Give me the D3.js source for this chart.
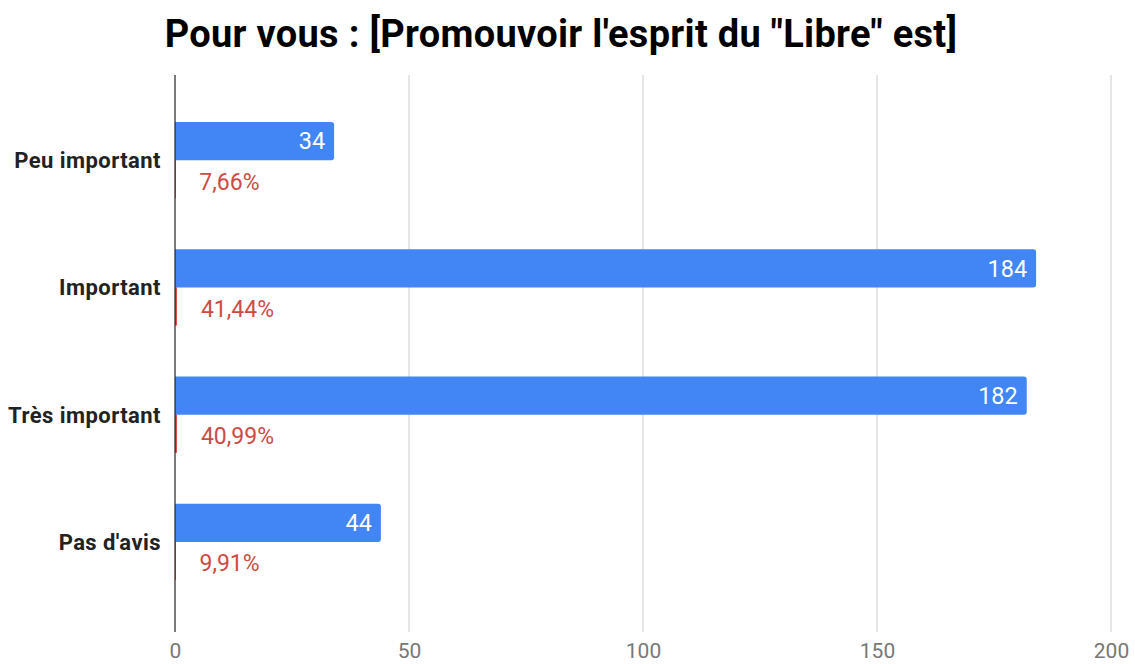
<!DOCTYPE html>
<html>
<head>
<meta charset="utf-8">
<script src="https://cdn.jsdelivr.net/npm/d3@7"></script>
<style>
  html, body { margin: 0; padding: 0; background: #fff; }
  svg { display: block; font-family: Roboto, "Noto Sans", sans-serif; }
</style>
</head>
<body>
<svg id="chart" width="1135" height="664"></svg>
<script>
// Survey answers and their counts / shares
const categories = ["Peu important", "Important", "Très important", "Pas d'avis"];
const counts = [34, 184, 182, 44];
const shares = [0.0766, 0.4144, 0.4099, 0.0991];
const shareLabels = ["7,66%", "41,44%", "40,99%", "9,91%"];
const xTicks = [0, 50, 100, 150, 200];
const title = "Pour vous : [Promouvoir l'esprit du \"Libre\" est]";

const svg = d3.select("#chart");
const plot = { left: 175, right: 1111, top: 75, bottom: 632 };

const x = d3.scaleLinear().domain([0, 200]).range([plot.left, plot.right]);
const y = d3.scaleBand().domain(categories).range([96.5, 605.5])
  .paddingInner(0.4).paddingOuter(0.2);
const sub = d3.scaleBand().domain(["count", "share"]).range([0, y.bandwidth()]);

// Title
svg.append("text")
  .attr("x", 561).attr("y", 47)
  .attr("text-anchor", "middle")
  .attr("font-size", 38).attr("font-weight", 700)
  .attr("fill", "#000")
  .attr("letter-spacing", "0.3")
  .text(title);

// Vertical grid lines
svg.append("g").selectAll("line").data(xTicks.filter(d => d !== 0)).join("line")
  .attr("x1", d => x(d)).attr("x2", d => x(d))
  .attr("y1", plot.top).attr("y2", plot.bottom)
  .attr("stroke", "#cccccc").attr("stroke-width", 1);

// Bottom axis labels
const xAxis = d3.axisBottom(x).tickValues(xTicks).tickSize(0).tickPadding(0);
const gx = svg.append("g").attr("transform", `translate(0,${plot.bottom})`).call(xAxis);
gx.select(".domain").remove();
gx.selectAll("text")
  .attr("dy", 0).attr("y", 26)
  .attr("font-size", 21).attr("fill", "#777")
  .attr("font-family", "Roboto, sans-serif");

// Count bars (rounded on the right end)
const rows = categories.map((c, i) => ({ c, n: counts[i], s: shares[i], sl: shareLabels[i] }));
const bh = sub.bandwidth();
const r = 3;
svg.append("g").selectAll("path").data(rows).join("path")
  .attr("fill", "#4285f4")
  .attr("d", d => {
    const x0 = x(0), x1 = x(d.n), y0 = y(d.c) + sub("count"), y1 = y0 + bh;
    return `M${x0},${y0}H${x1 - r}Q${x1},${y0} ${x1},${y0 + r}V${y1 - r}Q${x1},${y1} ${x1 - r},${y1}H${x0}Z`;
  });

// Share bars (tiny, on the same scale)
svg.append("g").selectAll("rect").data(rows).join("rect")
  .attr("x", x(0))
  .attr("y", d => y(d.c) + sub("share"))
  .attr("width", d => Math.max(0.8, x(d.s) - x(0)))
  .attr("height", bh)
  .attr("fill", "#db4437");

// Count labels inside bars
svg.append("g").selectAll("text").data(rows).join("text")
  .attr("x", d => x(d.n) - 9)
  .attr("y", d => y(d.c) + sub("count") + bh / 2 + 8.3)
  .attr("text-anchor", "end")
  .attr("font-size", 23.5).attr("fill", "#fff")
  .text(d => d.n);

// Share labels
svg.append("g").selectAll("text").data(rows).join("text")
  .attr("x", d => x(d.s) + 24)
  .attr("y", d => y(d.c) + sub("share") + bh / 2 + 10.5)
  .attr("font-size", 23).attr("fill", "#cc4c43")
  .text(d => d.sl);

// Category labels
svg.append("g").selectAll("text").data(rows).join("text")
  .attr("x", 161)
  .attr("y", d => y(d.c) + y.bandwidth() / 2 + 8)
  .attr("text-anchor", "end")
  .attr("font-size", 22).attr("font-weight", 700)
  .attr("letter-spacing", "0.45")
  .attr("fill", "#222")
  .text(d => d.c);

// Zero baseline
svg.append("line")
  .attr("x1", x(0)).attr("x2", x(0))
  .attr("y1", plot.top).attr("y2", plot.bottom)
  .attr("stroke", "#222").attr("stroke-width", 1.2);
</script>
</body>
</html>
